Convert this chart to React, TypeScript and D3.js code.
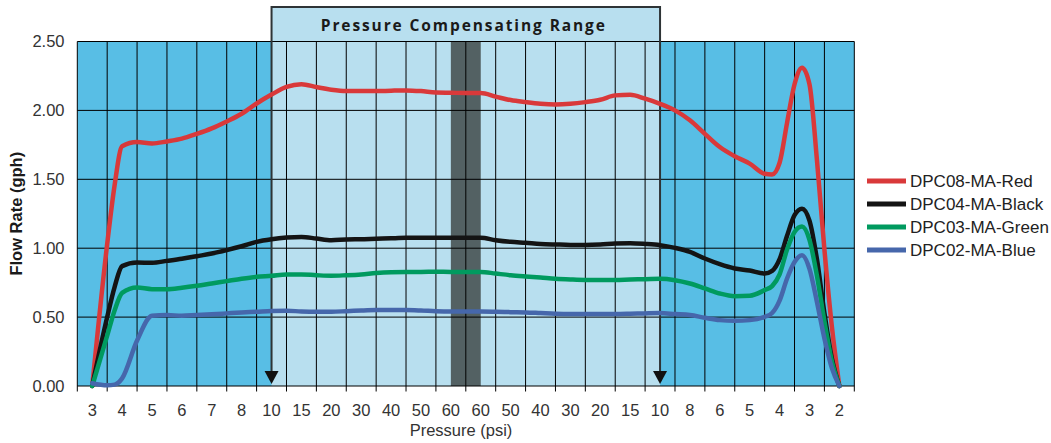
import * as d3 from "d3";
import { useEffect, useRef } from "react";

const pressureLabels = [
	"3", "4", "5", "6", "7", "8", "10", "15", "20", "30", "40", "50", "60",
	"60", "50", "40", "30", "20", "15", "10", "8", "6", "5", "4", "3", "2",
];
const flowTicks = [0, 0.5, 1, 1.5, 2, 2.5];

// position along the pressure axis, in category units (0 = first "3")
const positions = [
	0, 0.5, 0.75, 1, 1.5, 2, 2.5, 3, 3.5, 4, 4.5, 5, 5.5, 6, 6.5, 7, 7.5, 8, 8.5,
	9, 9.5, 10, 10.5, 11, 11.5, 12, 12.5, 13, 13.5, 14, 14.5, 15, 15.5, 16, 16.5,
	17, 17.5, 18, 18.5, 19, 19.5, 20, 20.5, 21, 21.5, 22, 22.5, 22.75, 23, 23.25,
	23.5, 23.75, 24, 24.25, 24.5, 24.75, 25,
];
const redFlow = [
	0, 1.03, 1.46, 1.74, 1.77, 1.76, 1.775, 1.795, 1.83, 1.87, 1.92, 1.976, 2.05,
	2.115, 2.17, 2.19, 2.17, 2.15, 2.14, 2.14, 2.14, 2.143, 2.145, 2.14, 2.13,
	2.128, 2.126, 2.126, 2.1, 2.075, 2.06, 2.048, 2.043, 2.048, 2.06, 2.077, 2.109,
	2.114, 2.085, 2.048, 2.0, 1.928, 1.83, 1.734, 1.667, 1.614, 1.54, 1.535, 1.62,
	1.91, 2.19, 2.31, 2.19, 1.64, 0.99, 0.43, 0,
];
const blackFlow = [
	0, 0.5, 0.72, 0.87, 0.896, 0.894, 0.908, 0.923, 0.942, 0.961, 0.986, 1.014,
	1.046, 1.065, 1.077, 1.082, 1.07, 1.058, 1.063, 1.065, 1.068, 1.072, 1.075,
	1.075, 1.075, 1.075, 1.075, 1.075, 1.058, 1.046, 1.039, 1.031, 1.027, 1.024,
	1.024, 1.027, 1.034, 1.036, 1.031, 1.022, 1.002, 0.973, 0.925, 0.884, 0.853,
	0.838, 0.816, 0.835, 0.92, 1.09, 1.24, 1.287, 1.2, 0.92, 0.53, 0.2, 0,
];
const greenFlow = [
	0, 0.365, 0.55, 0.676, 0.715, 0.703, 0.703, 0.713, 0.727, 0.744, 0.761, 0.778,
	0.792, 0.8, 0.81, 0.81, 0.804, 0.8, 0.804, 0.81, 0.82, 0.826, 0.828, 0.828,
	0.83, 0.828, 0.828, 0.828, 0.816, 0.804, 0.795, 0.787, 0.778, 0.773, 0.77,
	0.77, 0.77, 0.773, 0.775, 0.778, 0.768, 0.744, 0.708, 0.671, 0.652, 0.655,
	0.696, 0.725, 0.81, 0.99, 1.118, 1.157, 1.06, 0.8, 0.47, 0.18, 0,
];
const blueFlow = [
	0.02, 0.005, 0.01, 0.055, 0.33, 0.51, 0.515, 0.51, 0.515, 0.52, 0.527, 0.534,
	0.539, 0.545, 0.546, 0.541, 0.539, 0.539, 0.543, 0.548, 0.551, 0.551, 0.551,
	0.548, 0.543, 0.541, 0.541, 0.541, 0.539, 0.536, 0.534, 0.529, 0.524, 0.522,
	0.522, 0.522, 0.522, 0.524, 0.527, 0.529, 0.522, 0.515, 0.495, 0.478, 0.473,
	0.478, 0.502, 0.53, 0.62, 0.78, 0.9, 0.949, 0.85, 0.61, 0.345, 0.13, 0,
];
const seriesNames = ["DPC08-MA-Red", "DPC04-MA-Black", "DPC03-MA-Green", "DPC02-MA-Blue"];
const seriesColors = ["#d9393a", "#141414", "#009a5f", "#4667ab"];
const seriesValues = [redFlow, blackFlow, greenFlow, blueFlow];

function App() {
	const ref = useRef<SVGSVGElement>(null);
	const width = 1051;
	const height = 443;
	const left = 77.3;
	const right = 854.3;
	const top = 41.5;
	const bottom = 386;
	const font = "'Liberation Sans', Arial, sans-serif";

	useEffect(() => {
		const svg = d3.select(ref.current);
		svg.selectAll("*").remove();

		const xBand = d3
			.scaleBand<number>()
			.domain(d3.range(pressureLabels.length))
			.range([left, right]);
		const x = d3
			.scaleLinear()
			.domain([-0.5, pressureLabels.length - 0.5])
			.range([left, right]);
		const y = d3.scaleLinear().domain([0, 2.5]).range([bottom, top]);

		const rangeStart = x(6);
		const rangeEnd = x(19);
		const boxTop = 7;

		// backgrounds
		svg.append("rect")
			.attr("x", left)
			.attr("y", top)
			.attr("width", right - left)
			.attr("height", bottom - top)
			.attr("fill", "#58bee5");
		svg.append("rect")
			.attr("x", rangeStart)
			.attr("y", boxTop)
			.attr("width", rangeEnd - rangeStart)
			.attr("height", bottom - boxTop)
			.attr("fill", "#b8dfef");
		svg.append("rect")
			.attr("x", x(12))
			.attr("y", top)
			.attr("width", x(13) - x(12))
			.attr("height", bottom - top)
			.attr("fill", "#536163");

		// grid
		const edges = d3.range(pressureLabels.length + 1).map((i) =>
			i < pressureLabels.length ? xBand(i)! : right
		);
		svg.append("g")
			.selectAll("line")
			.data(edges)
			.enter()
			.append("line")
			.attr("x1", (d) => d)
			.attr("x2", (d) => d)
			.attr("y1", top)
			.attr("y2", bottom + 5.5)
			.attr("stroke", "#000")
			.attr("stroke-width", 1);
		svg.append("g")
			.selectAll("line")
			.data(flowTicks)
			.enter()
			.append("line")
			.attr("x1", left)
			.attr("x2", right)
			.attr("y1", (d) => y(d))
			.attr("y2", (d) => y(d))
			.attr("stroke", "#000")
			.attr("stroke-width", 1);

		// range box
		svg.append("path")
			.attr(
				"d",
				`M${rangeStart},${bottom - 14}V${boxTop}H${rangeEnd}V${bottom - 14}`
			)
			.attr("fill", "none")
			.attr("stroke", "#2e3436")
			.attr("stroke-width", 2);
		[rangeStart, rangeEnd].forEach((ax) => {
			svg.append("path")
				.attr("d", `M${ax - 7},${bottom - 15}L${ax + 7},${bottom - 15}L${ax},${bottom - 2}Z`)
				.attr("fill", "#111");
		});
		svg.append("text")
			.attr("x", (rangeStart + rangeEnd) / 2 - 2)
			.attr("y", 31)
			.attr("text-anchor", "middle")
			.style("font-family", "'Open Sans', sans-serif")
			.style("font-weight", "700")
			.style("font-size", "15.5px")
			.style("letter-spacing", "1.9px")
			.style("fill", "#1a1a1a")
			.text("Pressure Compensating Range");

		// series
		const line = d3
			.line<number>()
			.x((_, i) => x(positions[i]))
			.y((d) => y(d))
			.curve(d3.curveMonotoneX);
		seriesValues.forEach((values, k) => {
			svg.append("path")
				.attr("d", line(values))
				.attr("fill", "none")
				.attr("stroke", seriesColors[k])
				.attr("stroke-width", 4.5)
				.attr("stroke-linejoin", "round")
				.attr("stroke-linecap", "round");
		});

		// y tick labels
		svg.append("g")
			.selectAll("text")
			.data(flowTicks)
			.enter()
			.append("text")
			.attr("x", 64.5)
			.attr("y", (d) => y(d))
			.attr("dy", "0.36em")
			.attr("text-anchor", "end")
			.style("font-family", font)
			.style("font-size", "16.5px")
			.style("fill", "#333")
			.text((d) => d.toFixed(2));

		// x tick labels
		svg.append("g")
			.selectAll("text")
			.data(pressureLabels)
			.enter()
			.append("text")
			.attr("x", (_, i) => x(i))
			.attr("y", 416)
			.attr("text-anchor", "middle")
			.style("font-family", font)
			.style("font-size", "16.5px")
			.style("fill", "#333")
			.text((d) => d);

		svg.append("text")
			.attr("x", 461)
			.attr("y", 436)
			.attr("text-anchor", "middle")
			.style("font-family", font)
			.style("font-size", "16.5px")
			.style("fill", "#333")
			.text("Pressure (psi)");
		svg.append("text")
			.attr("transform", `translate(21.5,${(top + bottom) / 2}) rotate(-90)`)
			.attr("text-anchor", "middle")
			.style("font-family", font)
			.style("font-size", "16.5px")
			.style("font-weight", "700")
			.style("fill", "#1a1a1a")
			.text("Flow Rate (gph)");

		// legend
		const legend = svg
			.append("g")
			.selectAll("g")
			.data(seriesNames)
			.enter()
			.append("g")
			.attr("transform", (_, i) => "translate(867," + (181 + i * 23) + ")");
		legend
			.append("line")
			.attr("x1", 0)
			.attr("x2", 39)
			.attr("stroke", (_, i) => seriesColors[i])
			.attr("stroke-width", 5);
		legend
			.append("text")
			.attr("x", 43)
			.attr("dy", "0.36em")
			.style("font-family", font)
			.style("font-size", "17px")
			.style("fill", "#222")
			.text((d) => d);
	}, []);

	return (
		<svg
			ref={ref}
			width={width}
			height={height}
			style={{ position: "absolute", left: 0, top: 0, background: "#fff" }}
		/>
	);
}

export default App;
